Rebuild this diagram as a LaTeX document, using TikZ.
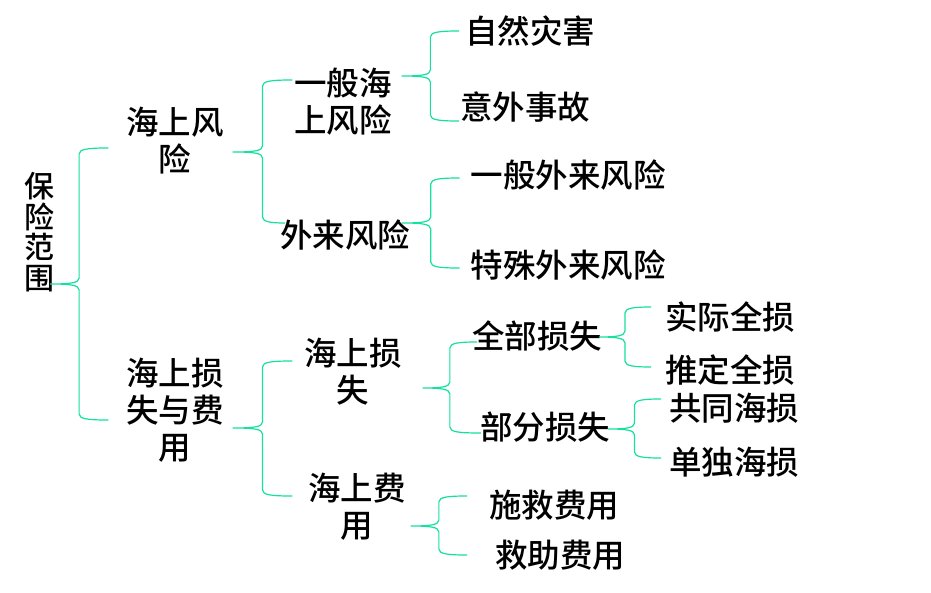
\documentclass[tikz,border=0pt]{standalone}
\usepackage{fontspec}
\newfontfamily\cjk{Noto Sans CJK SC}[UprightFont=* Medium]
\usetikzlibrary{calc}
\definecolor{xanhngoc}{RGB}{20,224,160}
% dau ngoac nhon: #1 mui, #2 dau tren, #3 dau duoi
\newcommand{\ngoac}[3]{%
	\draw[ngoac] let \p1=#1, \p2=#2, \p3=#3, \p4=($#1!.5!#2$) in
		(\p2) .. controls (\x4+9pt,\y2) and (\x4,\y2-1pt) .. (\x4,\y2-6pt)
		-- (\x4,\y1+6pt) .. controls (\x4,\y1+1pt) and (\x4-9pt,\y1) .. (\p1)
		.. controls (\x4-9pt,\y1) and (\x4,\y1-1pt) .. (\x4,\y1-6pt)
		-- (\x4,\y3+6pt) .. controls (\x4,\y3+1pt) and (\x4+9pt,\y3) .. (\p3);}
\begin{document}
\begin{tikzpicture}[x=1pt, y=-1pt, line join=round, line cap=round,
		chu/.style={inner sep=0pt, align=center, font=\cjk\fontsize{32.5}{37}\selectfont},
		ngoac/.style={draw=xanhngoc, line width=1.2pt}]
	\useasboundingbox (0,0) rectangle (931,592);
	\node[chu, font=\cjk\fontsize{30}{30.5}\selectfont] (bhpv) at (39,232) {保\\险\\范\\围};
	\node[chu] (hsfx) at (175,141) {海上风\\险};
	\node[chu] (hsss) at (175,410) {海上损\\失与费\\用};
	\node[chu] (ybhs) at (343,102) {一般海\\上风险};
	\node[chu] (wlfx) at (345,235) {外来风险};
	\node[chu] (hsst) at (353,372) {海上损\\失};
	\node[chu] (hsfy) at (357,507) {海上费\\用};
	\node[chu] (zrzh) at (530,31) {自然灾害};
	\node[chu] (ywsg) at (525,107) {意外事故};
	\node[chu] (ybwl) at (568,175) {一般外来风险};
	\node[chu] (tswl) at (568,265) {特殊外来风险};
	\node[chu] (qbss) at (537,336) {全部损失};
	\node[chu] (bfss) at (545,427) {部分损失};
	\node[chu] (sjqs) at (730,317) {实际全损};
	\node[chu] (tdqs) at (730,370) {推定全损};
	\node[chu] (gths) at (734,408) {共同海损};
	\node[chu] (ddhs) at (734,462) {单独海损};
	\node[chu] (sjfy) at (554,505) {施救费用};
	\node[chu] (jzfy) at (560,555) {救助费用};
	% cac dau ngoac
	\ngoac{([shift={(-4,52)}]bhpv.east)}{([shift={(-18,7)}]hsfx.west)}{([shift={(-18,10)}]hsss.west)}
	\ngoac{([shift={(9,11)}]hsfx.east)}{([shift={(-2,-22)}]ybhs.west)}{([shift={(5,-12)}]wlfx.west)}
	\ngoac{([shift={(10,-26)}]ybhs.east)}{([shift={(-6,0)}]zrzh.west)}{([shift={(-1,14)}]ywsg.west)}
	\ngoac{([shift={(-8,-12)}]wlfx.east)}{([shift={(-11,3)}]ybwl.west)}{([shift={(-11,3)}]tswl.west)}
	\ngoac{([shift={(9,18)}]hsss.east)}{([shift={(-12,-11)}]hsst.west)}{([shift={(-16,-11)}]hsfy.west)}
	\ngoac{([shift={(21,16)}]hsst.east)}{([shift={(5,6)}]qbss.west)}{([shift={(1,6)}]bfss.west)}
	\ngoac{([shift={(-3,1)}]qbss.east)}{([shift={(-14,-10)}]sjqs.west)}{([shift={(-14,-3)}]tdqs.west)}
	\ngoac{([shift={(-2,2)}]bfss.east)}{([shift={(-8,-9)}]gths.west)}{([shift={(-8,-4)}]ddhs.west)}
	\ngoac{([shift={(5,19)}]hsfy.east)}{([shift={(-22,-9)}]sjfy.west)}{([shift={(-28,0)}]jzfy.west)}
\end{tikzpicture}
\end{document}
